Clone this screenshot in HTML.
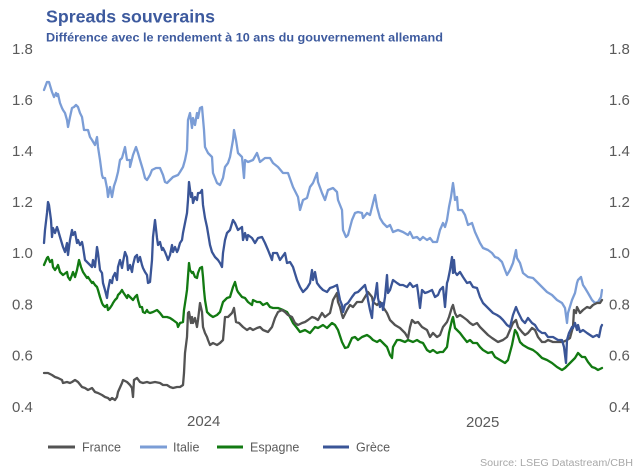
<!DOCTYPE html>
<html><head><meta charset="utf-8"><style>
html,body{margin:0;padding:0;background:#fff;}
svg{display:block;}
text{font-family:"Liberation Sans",Arial,sans-serif;}
</style></head><body>
<svg width="640" height="474" viewBox="0 0 640 474" xmlns="http://www.w3.org/2000/svg">
<rect width="640" height="474" fill="#fff"/>
<text x="46" y="22.5" font-size="17.5" font-weight="bold" fill="#3d5a9e" textLength="169" lengthAdjust="spacingAndGlyphs">Spreads souverains</text>
<text x="46" y="41.5" font-size="12" font-weight="bold" fill="#3d5a9e" textLength="397" lengthAdjust="spacingAndGlyphs">Différence avec le rendement à 10 ans du gouvernement allemand</text>
<g font-size="15" fill="#5a5a5a">
<text x="12" y="54">1.8</text><text x="12" y="105">1.6</text><text x="12" y="156">1.4</text><text x="12" y="207">1.2</text><text x="12" y="258">1.0</text><text x="12" y="309.5">0.8</text><text x="12" y="360.5">0.6</text><text x="12" y="412">0.4</text>
<text x="609" y="54">1.8</text><text x="609" y="105">1.6</text><text x="609" y="156">1.4</text><text x="609" y="207">1.2</text><text x="609" y="258">1.0</text><text x="609" y="309.5">0.8</text><text x="609" y="360.5">0.6</text><text x="609" y="412">0.4</text>
<text x="187" y="426">2024</text><text x="466" y="427">2025</text>
</g>
<g fill="none" stroke-width="2.3" stroke-linejoin="round" stroke-linecap="round">
<polyline stroke="#7b9dd6" points="44,90 47,82 49,82 52,92 54,97 56,93 57,96 58,94 60,103 62,108 63,110 65,113 67,120 68,127 70,117 72,108 74,107 76,105 78,107 80,113 82,117 84,130 86,130 88,130 90,137 92,140 95,145 97,137 98,147 100,160 102,175 103,178 105,178 107,188 108,197 110,187 112,197 114,186 116,180 118,172 120,160 122,158 125,147 127,160 130,160 130,167 133,155 136,147 138,153 140,160 143,170 145,178 147,180 150,175 152,170 156,168 160,168 163,175 165,182 167,183 170,180 173,177 178,175 180,172 183,167 185,160 187,150 188,120 190,113 192,128 193,118 195,125 197,113 198,118 200,108 202,107 204,130 205,147 208,153 212,157 213,173 217,183 220,185 223,178 225,167 228,163 230,157 233,140 234,130 236,140 238,153 242,157 244,178 245,160 248,162 253,160 257,153 260,162 265,158 270,158 273,163 278,167 283,173 288,173 293,187 298,197 300,210 303,200 307,198 310,187 313,183 317,173 318,182 322,193 325,200 328,190 333,188 337,192 338,200 342,210 343,230 346,237 348,235 352,220 355,213 358,212 362,213 363,218 367,213 370,215 373,203 375,195 377,207 380,218 383,223 387,227 390,225 393,232 398,230 403,232 408,235 410,232 413,238 417,237 420,240 423,237 427,240 430,238 433,242 437,242 440,230 443,223 445,227 447,220 449,207 451,197 453,183 454,190 455,200 457,197 458,210 462,210 465,215 468,225 472,223 475,232 480,243 483,248 488,250 492,253 495,257 498,258 502,262 505,270 507,275 510,270 513,263 516,250 517,258 520,263 523,273 528,277 533,278 537,282 542,287 547,292 552,295 557,300 562,303 565,308 567,323 568,313 572,300 575,293 577,283 578,280 581,277 583,285 585,288 588,293 592,300 595,303 598,302 601,297 602,290"/>
<polyline stroke="#127a12" points="44,265 47,258 48,257 50,262 52,260 53,267 55,270 57,267 58,265 60,272 63,275 67,272 68,277 70,280 72,275 73,272 75,277 77,270 78,265 79,260 81,267 83,272 85,275 87,278 88,277 90,280 92,283 93,282 95,285 97,287 98,290 100,297 102,303 103,305 105,307 107,305 108,310 110,308 112,305 113,303 115,300 117,298 118,295 120,293 122,290 123,292 125,295 127,298 128,295 130,297 133,300 135,297 137,295 138,300 140,307 142,307 143,312 145,313 147,310 148,312 150,313 153,312 157,310 160,313 163,317 167,317 170,318 173,320 177,323 178,327 180,323 183,322 184,310 186,297 187,290 189,263 190,270 192,273 193,272 195,277 197,278 198,273 200,268 202,267 203,277 204,290 205,300 207,312 210,315 213,317 217,315 220,312 223,302 227,298 230,297 233,287 235,282 237,290 238,292 242,297 245,298 248,302 252,305 253,300 257,302 260,302 263,305 267,303 270,307 273,308 278,308 283,310 287,312 290,317 293,323 297,328 300,332 305,330 310,333 315,327 318,328 323,325 327,328 332,323 335,325 338,330 342,342 345,348 348,347 352,338 355,337 358,340 362,337 367,335 370,337 373,340 377,342 380,340 383,343 387,347 390,355 392,358 393,347 397,340 400,340 405,342 408,340 413,342 417,340 420,342 423,343 427,350 430,352 433,350 437,353 440,352 443,352 447,347 449,333 452,320 453,317 455,328 457,330 460,333 463,337 467,342 470,340 473,343 477,343 480,347 483,350 488,353 492,352 495,357 500,360 505,363 508,360 512,345 515,330 517,333 520,342 523,345 528,348 533,350 537,353 542,358 547,360 552,363 557,367 562,370 565,368 570,363 575,358 578,353 582,357 585,357 588,362 592,367 595,368 598,370 602,368"/>
<polyline stroke="#535353" points="44,373 48,373 52,375 55,377 58,378 62,380 63,383 67,382 70,383 72,382 75,380 78,382 82,387 85,388 88,390 92,388 95,392 98,393 102,395 105,397 108,398 110,400 112,398 115,400 117,397 118,392 122,383 123,380 127,382 130,385 132,388 133,397 134,380 137,378 140,382 143,383 147,382 150,383 155,382 160,383 163,385 167,385 170,387 173,388 177,387 180,387 183,385 184,373 185,353 187,337 188,313 189,312 191,323 192,317 193,323 195,318 197,327 198,320 200,303 202,312 203,327 205,333 207,337 208,340 210,345 213,343 217,345 220,343 223,340 225,317 228,317 232,313 234,308 236,322 239,323 243,327 247,330 250,328 253,330 257,328 260,327 263,330 268,332 272,327 275,318 278,312 282,310 285,312 288,315 292,317 295,323 298,325 302,323 305,322 308,320 312,317 315,318 318,320 322,313 325,317 330,313 333,300 337,293 338,302 340,307 342,315 343,318 347,310 350,305 353,307 357,302 362,302 365,297 368,292 372,297 373,302 377,305 380,302 383,307 387,313 390,320 395,325 400,328 405,333 408,338 410,327 412,320 415,323 418,322 422,327 427,330 430,337 433,333 437,337 440,335 443,327 447,322 449,317 452,307 453,305 455,313 457,317 460,315 463,317 467,320 470,323 473,325 477,323 480,327 483,330 488,335 492,338 495,340 498,342 503,340 507,337 510,330 513,323 516,320 518,327 522,332 525,335 528,333 532,328 535,330 538,337 542,342 545,342 548,340 553,342 558,342 563,342 567,340 570,338 573,327 574,310 576,313 577,307 580,313 583,310 587,307 590,308 593,305 597,303 600,303 602,300"/>
<polyline stroke="#3a5597" points="44,243 45,230 47,213 48,202 49,205 51,220 52,237 53,228 55,233 57,227 58,230 60,237 63,247 65,252 67,243 68,255 70,240 72,230 73,235 75,232 77,243 78,240 80,245 82,242 83,247 85,260 88,263 92,267 93,260 95,267 97,247 98,253 100,270 102,273 103,283 105,290 107,298 108,290 110,280 112,283 113,277 115,273 117,280 118,267 120,260 122,268 123,262 125,252 127,257 128,270 130,265 132,272 133,265 135,257 137,255 138,262 140,257 142,265 143,268 145,272 147,275 148,283 150,282 152,260 153,237 155,220 157,238 158,245 160,242 162,250 163,248 165,252 167,257 168,260 170,255 172,245 173,252 175,247 177,252 178,250 180,243 182,240 183,233 185,223 187,213 188,200 189,182 191,197 192,193 193,203 195,197 197,200 198,193 200,193 202,190 203,205 205,218 207,227 208,233 210,245 212,252 215,257 218,260 220,263 222,267 223,253 225,240 227,233 230,230 233,220 235,223 238,230 242,227 243,240 245,233 247,240 248,235 252,238 255,243 258,238 262,237 265,243 268,250 272,260 273,253 277,253 280,260 285,253 287,263 290,262 293,267 297,280 300,287 303,292 307,288 310,283 312,270 313,280 315,272 317,283 320,287 323,290 327,292 330,288 333,287 337,285 338,290 340,300 342,305 343,312 345,305 348,303 352,297 355,293 358,292 362,288 365,285 367,293 368,300 370,310 372,318 373,303 375,297 377,283 378,298 380,307 382,303 383,310 385,297 387,275 388,293 390,290 393,280 397,283 400,285 403,285 407,287 410,283 413,287 417,285 418,292 420,308 422,290 425,293 428,292 432,290 435,297 438,295 440,290 443,287 445,307 447,283 448,280 450,270 452,257 453,273 454,260 455,272 457,275 460,272 463,277 467,283 470,282 473,287 477,288 480,297 483,303 487,307 490,310 493,313 497,315 500,317 503,320 507,325 510,327 513,315 516,307 518,312 522,320 525,323 528,318 532,323 535,325 538,330 542,333 545,333 548,337 553,337 558,340 562,340 564,347 566,363 567,340 569,333 572,327 573,328 575,323 577,330 578,325 580,332 583,330 587,333 590,335 593,337 597,335 599,337 601,327 602,325"/>
</g>
<g stroke-width="3" stroke-linecap="butt">
<line x1="48" y1="447" x2="75" y2="447" stroke="#535353"/>
<line x1="140" y1="447" x2="167" y2="447" stroke="#7b9dd6"/>
<line x1="217" y1="447" x2="243" y2="447" stroke="#127a12"/>
<line x1="323" y1="447" x2="349" y2="447" stroke="#3a5597"/>
</g>
<g font-size="12.5" fill="#5a5a5a">
<text x="82" y="451.5">France</text>
<text x="173" y="451.5">Italie</text>
<text x="250" y="451.5">Espagne</text>
<text x="356" y="451.5">Grèce</text>
</g>
<text x="480" y="466" font-size="10" fill="#a8a8a8" textLength="153" lengthAdjust="spacingAndGlyphs">Source: LSEG Datastream/CBH</text>
</svg>
</body></html>
